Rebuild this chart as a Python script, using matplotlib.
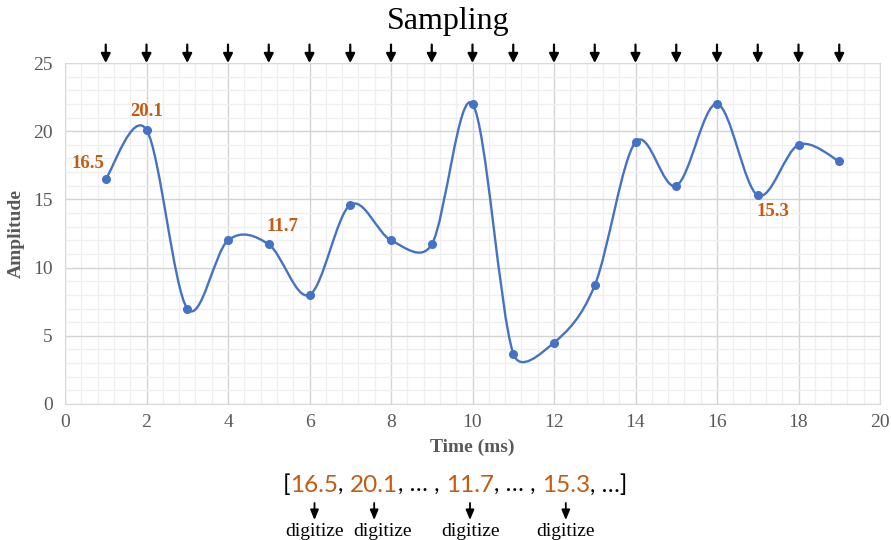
import numpy as np
import matplotlib
matplotlib.use("Agg")
import matplotlib.pyplot as plt
from matplotlib.path import Path
from matplotlib.patches import PathPatch, FancyArrowPatch
from matplotlib.ticker import MultipleLocator

# sampled signal
time_ms = [1, 2, 3, 4, 5, 6, 7, 8, 9, 10, 11, 12, 13, 14, 15, 16, 17, 18, 19]
amplitude = [16.5, 20.1, 7.0, 12.0, 11.7, 8.0, 14.6, 12.0, 11.7, 22.0,
             3.7, 4.5, 8.7, 19.2, 16.0, 22.0, 15.3, 19.0, 17.8]

# labelled samples (index into the series) and offsets in points
labelled = [0, 1, 4, 16]
label_offsets = [(-13, 11), (0, 13), (10, 13), (11, -12)]

# digitized list shown under the chart
list_parts = ["[", "16.5", ", ", "20.1", ", \u2026 , ", "11.7", ", \u2026 , ", "15.3", ", \u2026]"]

ORANGE = "#C55A11"
BLUE = "#4472C4"
GREY = "#595959"
SERIF = ["Liberation Serif", "DejaVu Serif"]
SANS = ["Lato", "DejaVu Sans"]


def smooth_path(ax, xs, ys):
    # excel-like smoothed line, worked out in pixel space so the
    # control arms can be capped at half the segment length
    pts = ax.transData.transform(np.column_stack([xs, ys]))
    n = len(pts)

    def arm(a, b, seg):
        d = (b - a) / 6.0
        L = np.hypot(*d)
        lim = np.hypot(*seg) / 2.0
        return d * (lim / L) if L > lim else d

    verts = [pts[0]]
    codes = [Path.MOVETO]
    for i in range(n - 1):
        p0 = pts[i - 1] if i > 0 else pts[i]
        p1 = pts[i]
        p2 = pts[i + 1]
        p3 = pts[i + 2] if i + 2 < n else pts[i + 1]
        seg = p2 - p1
        c1 = p1 + arm(p0, p2, seg)
        c2 = p2 - arm(p1, p3, seg)
        verts += [c1, c2, p2]
        codes += [Path.CURVE4] * 3
    verts = ax.transData.inverted().transform(np.array(verts))
    return Path(verts, codes)


fig = plt.figure(figsize=(8.91, 5.4), dpi=100)
ax = fig.add_axes([65 / 891, 1 - 404 / 540, 815 / 891, 341 / 540])

ax.set_xlim(0, 20)
ax.set_ylim(0, 25)
ax.xaxis.set_major_locator(MultipleLocator(2))
ax.xaxis.set_minor_locator(MultipleLocator(0.4))
ax.yaxis.set_major_locator(MultipleLocator(5))
ax.yaxis.set_minor_locator(MultipleLocator(1))
ax.grid(which="major", color="#D4D4D4", linewidth=1.0)
ax.grid(which="minor", color="#EFEFEF", linewidth=0.9)
ax.set_axisbelow(True)
ax.tick_params(which="both", length=0)
ax.tick_params(axis="x", pad=7)
ax.tick_params(axis="y", pad=9)
for lab in ax.get_xticklabels() + ax.get_yticklabels():
    lab.set_family(SERIF)
    lab.set_fontsize(14)
    lab.set_color(GREY)
for s in ax.spines.values():
    s.set_color("#D9D9D9")

ax.add_patch(PathPatch(smooth_path(ax, time_ms, amplitude), facecolor="none",
                       edgecolor=BLUE, linewidth=1.7, zorder=3))
ax.plot(time_ms, amplitude, "o", color=BLUE, markersize=5.5, zorder=4)

for idx, (dx, dy) in zip(labelled, label_offsets):
    ax.annotate(f"{amplitude[idx]:.1f}", (time_ms[idx], amplitude[idx]),
                xytext=(dx, dy), textcoords="offset points",
                ha="center", va="center", color=ORANGE, fontweight="bold",
                fontsize=13.5, family=SERIF)

# sampling arrows above the plot
for t in time_ms:
    ax.annotate("", xy=(t, 25), xytext=(t, 26.35), annotation_clip=False,
                arrowprops=dict(arrowstyle="-|>,head_length=0.55,head_width=0.28",
                                color="black", lw=1.6, shrinkA=0, shrinkB=0))

ax.set_xlabel("Time (ms)", family=SERIF, fontsize=14, fontweight="bold",
              color=GREY, labelpad=6)
ax.set_ylabel("Amplitude", family=SERIF, fontsize=14, fontweight="bold",
              color=GREY, labelpad=6)
fig.text(448 / 891, 1 - 21 / 540, "Sampling", ha="center", va="center",
         family=SERIF, fontsize=23)

# digitized list, pieces laid side by side
list_y = 1 - 496 / 540
pieces = []
for part in list_parts:
    color = ORANGE if part[0].isdigit() else "black"
    pieces.append(fig.text(0, list_y, part, ha="left", va="bottom",
                           fontsize=17.5, family=SANS, color=color))
fig.canvas.draw()
renderer = fig.canvas.get_renderer()
x_px = 283
for t in pieces:
    t.set_position((x_px / 891, list_y))
    x_px += t.get_window_extent(renderer).width

# arrows to "digitize" under each number
numbers = [t for t in pieces if t.get_text()[0].isdigit()]
label_shift = [0, 8, 0, 0]
for t, sh in zip(numbers, label_shift):
    bb = t.get_window_extent(renderer)
    xc = (bb.x0 + bb.x1) / 2 / 891
    fig.patches.append(FancyArrowPatch(
        (xc, 1 - 503 / 540), (xc, 1 - 520 / 540), transform=fig.transFigure,
        arrowstyle="-|>,head_length=6,head_width=2.5", color="black", lw=1.3,
        shrinkA=0, shrinkB=0))
    fig.text(xc + sh / 891, 1 - 531 / 540, "digitize", ha="center", va="center",
             family=SERIF, fontsize=14)

fig.savefig("out.png", dpi=100)
